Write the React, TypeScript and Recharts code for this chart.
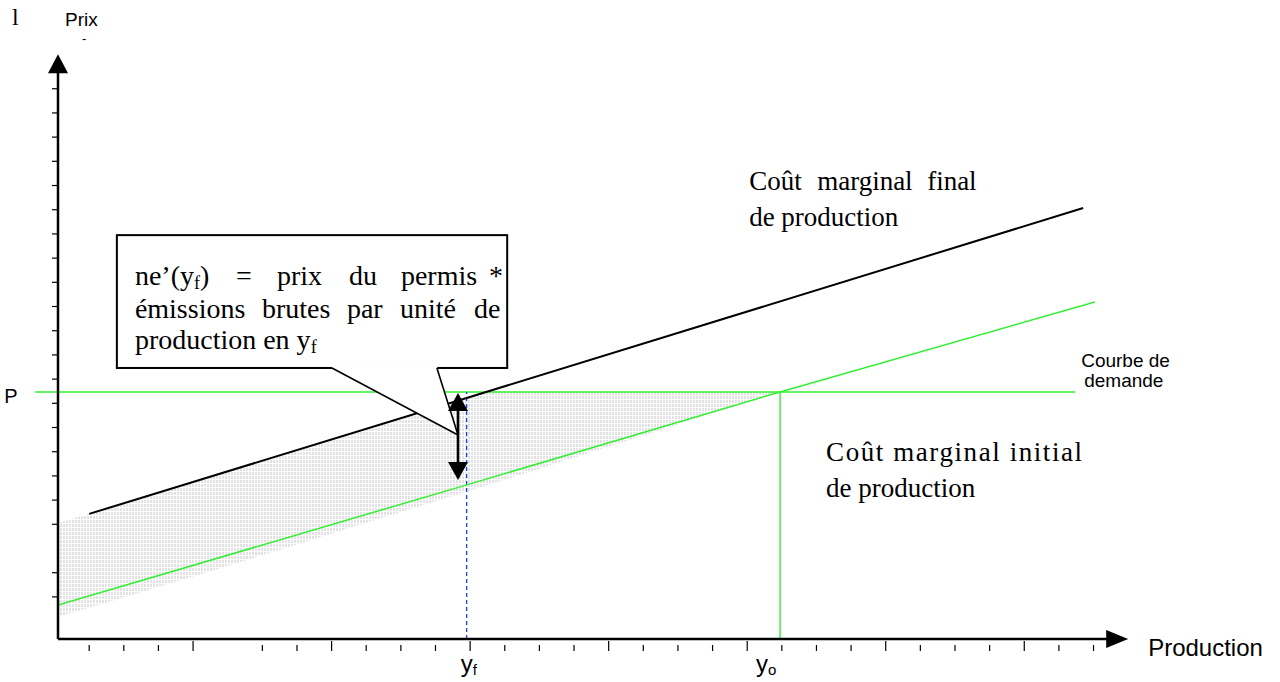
import React from 'react'
import { ComposedChart, XAxis, YAxis, Line, Area, ReferenceLine, ReferenceArea, ReferenceDot } from 'recharts'

// repère du schéma, en unités de graduation
const X_MIN = 0.1
const X_MAX = 30.36
const Y_MIN = 0.26
const Y_MAX = 23.65
const X_TIP = 31.0
const Y_TIP = 24.43

const xTicks = [1, 2, 3, 4, 6, 7, 8, 9, 10, 11, 12, 13, 14, 15, 16, 17, 18, 19, 20, 21, 22, 23, 24, 25, 26, 27, 28, 29, 30]
const xLongTicks = [4, 8, 12, 16, 20, 24, 28]
const yTicks = [2, 3, 5, 6, 7, 8, 9, 10, 11, 12, 13, 14, 15, 16, 17, 18, 19, 20, 21, 22, 23]

// niveaux
const P = 10.47
const Y_F = 11.9
const Y_O = 20.95
const DEMANDE_X = [-0.56, 29.47]

// courbes de coût marginal
const coutFinal = [
  { x: 1.0, y: 5.43 },
  { x: 11.9, y: 10.22 },
  { x: 29.7, y: 18.07 },
]
const coutInitial = [
  { x: 0.1, y: 1.66 },
  { x: 11.88, y: 6.62 },
  { x: 20.95, y: 10.47 },
  { x: 30.04, y: 14.19 },
]

// zone hachurée
const zoneX = [0.1, 5.1, 11.88, 12.47, 20.95]
const zoneHaut = [5.05, 7.24, 10.21, 10.47, 10.47]
const zoneBas = [1.17, 3.32, 6.35, 6.6, 10.47]
const zone = zoneX.map((x, i) => ({ x, band: [zoneBas[i], zoneHaut[i]] }))

// double flèche ne'(yf)
const FLECHE_X = 11.65
const FLECHE_Y = [6.83, 10.43]

// bulle
const bulle = { x1: 1.8, x2: 13.07, y1: 11.46, y2: 16.95 }
const pointeX = [8.01, 11.04, 11.65]
const pointeHaut = [11.52, 11.52, 8.69]
const pointeBas = [11.46, 9.15, 8.69]
const pointe = pointeX.map((x, i) => ({ x, band: [pointeBas[i], pointeHaut[i]] }))

const GREEN = '#33ee33'
const SERIF = "'Liberation Serif', 'Times New Roman', serif"
const SANS = "'Liberation Sans', Arial, sans-serif"

const XTick = (props: any) => {
  const { x, y, payload } = props
  const long = xLongTicks.includes(payload.value)
  return <line x1={x} x2={x} y1={y + (long ? 2 : 6)} y2={y + 12} stroke="#000" strokeWidth={1.2} />
}

const YTick = (props: any) => {
  const { x, y } = props
  return <line x1={x - 6} x2={x} y1={y} y2={y} stroke="#000" strokeWidth={1.2} />
}

// flèche : pointe(s) aux extrémités du segment
const fleche = (head: number, half: number, width: number, both = false) => (p: any) => {
  const { x1, y1, x2, y2 } = p
  const len = Math.hypot(x2 - x1, y2 - y1) || 1
  const ux = (x2 - x1) / len
  const uy = (y2 - y1) / len
  const tri = (tx: number, ty: number, dx: number, dy: number) => {
    const bx = tx - dx * head
    const by = ty - dy * head
    return `${tx},${ty} ${bx - dy * half},${by + dx * half} ${bx + dy * half},${by - dx * half}`
  }
  const sx = both ? x1 + ux * (head - 1) : x1
  const sy = both ? y1 + uy * (head - 1) : y1
  return (
    <g>
      <line x1={sx} y1={sy} x2={x2 - ux * (head - 1)} y2={y2 - uy * (head - 1)} stroke="#000" strokeWidth={width} />
      <polygon points={tri(x2, y2, ux, uy)} fill="#000" />
      {both && <polygon points={tri(x1, y1, -ux, -uy)} fill="#000" />}
    </g>
  )
}

const BulleShape = (p: any) => {
  const { x, y, width, height } = p
  const l1 = y + 50
  const l2 = y + 83
  const l3 = y + 114
  return (
    <g>
      <rect x={x} y={y} width={width} height={height} fill="#fff" stroke="#000" strokeWidth={2} />
      <g fontFamily={SERIF} fontSize={28} fill="#000">
        <text x={x + 18} y={l1}>
          ne’(y<tspan fontSize={18} dy={4}>f</tspan>
          <tspan dy={-4}>)</tspan>
        </text>
        <text x={x + 119} y={l1}>=</text>
        <text x={x + 160} y={l1}>prix</text>
        <text x={x + 232} y={l1}>du</text>
        <text x={x + 284} y={l1}>permis</text>
        <text x={x + 372} y={l1}>*</text>
        <text x={x + 18} y={l2}>émissions</text>
        <text x={x + 145} y={l2}>brutes</text>
        <text x={x + 230} y={l2}>par</text>
        <text x={x + 283} y={l2}>unité</text>
        <text x={x + 357} y={l2}>de</text>
        <text x={x + 18} y={l3}>
          production en y<tspan fontSize={18} dy={4}>f</tspan>
        </text>
      </g>
    </g>
  )
}

const note = (key: string, x: number, y: number, draw: (cx: number, cy: number) => React.ReactNode) => (
  <ReferenceDot
    key={key}
    x={x}
    y={y}
    r={0}
    ifOverflow="visible"
    zIndex={900}
    shape={(p: any) => <g>{draw(p.cx, p.cy)}</g>}
  />
)

export default function App() {
  return (
    <div style={{ position: 'absolute', left: 0, top: 0, width: 1280, height: 682, background: '#fff' }}>
      <ComposedChart width={1280} height={682} margin={{ top: 73, right: 174, bottom: 13, left: 28 }}>
        <defs>
          <pattern id="hachures" width={3} height={4} patternUnits="userSpaceOnUse">
            <line x1={1} y1={0} x2={1} y2={3} stroke="#c4c4c4" strokeWidth={1} />
          </pattern>
        </defs>
        <XAxis
          dataKey="x"
          type="number"
          domain={[X_MIN, X_MAX]}
          ticks={xTicks}
          interval={0}
          allowDataOverflow
          height={30}
          axisLine={false}
          tickLine={false}
          tickSize={0}
          tickMargin={0}
          tick={(p: any) => <XTick {...p} />}
        />
        <YAxis
          type="number"
          domain={[Y_MIN, Y_MAX]}
          ticks={yTicks}
          interval={0}
          allowDataOverflow
          width={30}
          axisLine={false}
          tickLine={false}
          tickSize={0}
          tickMargin={0}
          tick={(p: any) => <YTick {...p} />}
        />

        <Area data={zone} dataKey="band" type="linear" stroke="none" fill="url(#hachures)" fillOpacity={1} isAnimationActive={false} zIndex={100} />

        <ReferenceLine
          segment={[{ x: DEMANDE_X[0], y: P }, { x: DEMANDE_X[1], y: P }]}
          ifOverflow="visible"
          stroke={GREEN}
          strokeWidth={1.4}
          zIndex={200}
        />
        <ReferenceLine segment={[{ x: Y_F, y: Y_MIN }, { x: Y_F, y: P }]} stroke="#1030ff" strokeWidth={1.2} strokeDasharray="4 3" zIndex={200} />
        <ReferenceLine segment={[{ x: Y_O, y: Y_MIN }, { x: Y_O, y: P }]} stroke={GREEN} strokeWidth={1.4} zIndex={200} />

        <Line data={coutFinal} dataKey="y" type="linear" stroke="#000" strokeWidth={2} dot={false} activeDot={false} isAnimationActive={false} zIndex={300} />
        <Line data={coutInitial} dataKey="y" type="linear" stroke={GREEN} strokeWidth={1.5} dot={false} activeDot={false} isAnimationActive={false} zIndex={300} />

        <ReferenceArea x1={bulle.x1} x2={bulle.x2} y1={bulle.y1} y2={bulle.y2} ifOverflow="visible" shape={BulleShape} zIndex={400} />
        <Area data={pointe} dataKey="band" type="linear" stroke="none" fill="#fff" fillOpacity={1} isAnimationActive={false} zIndex={500} />
        <ReferenceLine segment={[{ x: pointeX[0], y: bulle.y1 }, { x: pointeX[2], y: pointeBas[2] }]} stroke="#000" strokeWidth={1.6} zIndex={600} />
        <ReferenceLine segment={[{ x: pointeX[1], y: bulle.y1 }, { x: pointeX[2], y: pointeBas[2] }]} stroke="#000" strokeWidth={1.6} zIndex={600} />

        <ReferenceLine
          segment={[{ x: FLECHE_X, y: FLECHE_Y[0] }, { x: FLECHE_X, y: FLECHE_Y[1] }]}
          shape={fleche(18, 10, 2.6, true)}
          zIndex={700}
        />

        {/* axes avec flèches */}
        <ReferenceLine segment={[{ x: X_MIN, y: Y_MIN }, { x: X_TIP, y: Y_MIN }]} ifOverflow="visible" shape={fleche(22, 9, 2.5)} zIndex={800} />
        <ReferenceLine segment={[{ x: X_MIN, y: Y_MIN }, { x: X_MIN, y: Y_TIP }]} ifOverflow="visible" shape={fleche(19, 10, 2.5)} zIndex={800} />

        {note('prix', X_MIN, Y_TIP, (cx, cy) => (
          <g fill="#000">
            <text x={cx - 46} y={cy - 29} fontFamily={SERIF} fontSize={24}>l</text>
            <text x={cx + 7} y={cy - 28} fontFamily={SANS} fontSize={19}>Prix</text>
            <text x={cx + 24} y={cy - 11} fontFamily={SANS} fontSize={13}>-</text>
          </g>
        ))}
        {note('p', DEMANDE_X[0], P, (cx, cy) => (
          <text x={cx - 31} y={cy + 11} fontFamily={SANS} fontSize={20} fill="#000">P</text>
        ))}
        {note('production', X_TIP, Y_MIN, (cx, cy) => (
          <text x={cx + 20} y={cy + 17} fontFamily={SANS} fontSize={24} fill="#000">Production</text>
        ))}
        {note('yf', Y_F, Y_MIN, (cx, cy) => (
          <text x={cx - 6} y={cy + 33} fontFamily={SANS} fontSize={24} fill="#000">
            y<tspan fontSize={15} dy={3}>f</tspan>
          </text>
        ))}
        {note('yo', Y_O, Y_MIN, (cx, cy) => (
          <text x={cx - 24} y={cy + 33} fontFamily={SANS} fontSize={24} fill="#000">
            y<tspan fontSize={15} dy={3}>o</tspan>
          </text>
        ))}
        {note('demande', DEMANDE_X[1], P, (cx, cy) => (
          <g fontFamily={SANS} fontSize={19} fill="#000">
            <text x={cx + 6} y={cy - 25}>Courbe de</text>
            <text x={cx + 9} y={cy - 5}>demande</text>
          </g>
        ))}
        {note('final', coutFinal[2].x, coutFinal[2].y, (cx, cy) => (
          <g fontFamily={SERIF} fontSize={27} fill="#000">
            <text x={cx - 334} y={cy - 18}>Coût</text>
            <text x={cx - 266} y={cy - 18}>marginal</text>
            <text x={cx - 156} y={cy - 18}>final</text>
            <text x={cx - 334} y={cy + 18}>de production</text>
          </g>
        ))}
        {note('initial', Y_O, P, (cx, cy) => (
          <g fontFamily={SERIF} fontSize={27} fill="#000">
            <text x={cx + 46} y={cy + 69} textLength={256} lengthAdjust="spacing">Coût marginal initial</text>
            <text x={cx + 46} y={cy + 105}>de production</text>
          </g>
        ))}
      </ComposedChart>
    </div>
  )
}
